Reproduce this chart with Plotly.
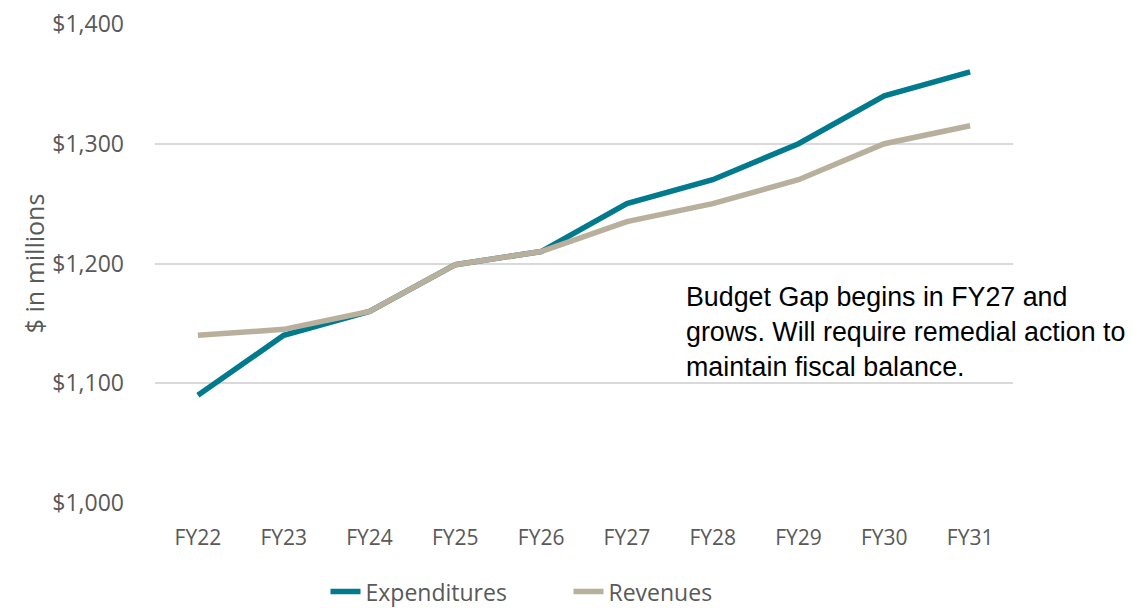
import plotly.graph_objects as go

years = ["FY22", "FY23", "FY24", "FY25", "FY26", "FY27", "FY28", "FY29", "FY30", "FY31"]
expenditures = [1090, 1140, 1160, 1199, 1210, 1250, 1270, 1300, 1340, 1360]
revenues = [1140, 1145, 1160, 1199, 1210, 1235, 1250, 1270, 1300, 1315]
y_ticks = [1000, 1100, 1200, 1300, 1400]
y_tick_labels = ["$1,000", "$1,100", "$1,200", "$1,300", "$1,400"]

font_family = "Open Sans, Noto Sans, sans-serif"
fig = go.Figure()
fig.add_trace(go.Scatter(x=years, y=expenditures, mode="lines", name="Expenditures",
                         line=dict(color="#007A8C", width=5.5)))
fig.add_trace(go.Scatter(x=years, y=revenues, mode="lines", name="Revenues",
                         line=dict(color="#B8B09C", width=5.5)))

fig.update_layout(
    width=1137, height=608,
    margin=dict(l=155, r=124, t=24, b=105, autoexpand=False),
    paper_bgcolor="white", plot_bgcolor="white",
    font=dict(family=font_family, size=18, color="#595959"),
    legend=dict(orientation="h", x=0.5, xanchor="center", xref="container",
                y=0.027, yanchor="middle", yref="container",
                font=dict(size=23, color="#595959"), traceorder="normal",
                itemwidth=30, entrywidth=198),
    annotations=[dict(
        text="Budget Gap begins in FY27 and<br>grows. Will require remedial action to<br>maintain fiscal balance.",
        xref="paper", yref="paper", x=(684 - 155) / 858, y=(503 - 280) / 479,
        xanchor="left", yanchor="top", align="left", showarrow=False,
        font=dict(family="Liberation Sans, Arial, sans-serif", size=26.8, color="black"))],
)
fig.update_xaxes(range=[-0.5, 9.5], showgrid=False, showline=False, zeroline=False, ticks="",
                 tickfont=dict(size=21, color="#595959"), ticklabelstandoff=20,
                 automargin=False)
fig.update_yaxes(range=[1000, 1400], tickvals=y_ticks, ticktext=y_tick_labels,
                 showgrid=True, gridcolor="#D9D9D9", gridwidth=1.5, zeroline=False,
                 showline=False, ticks="", ticklabelstandoff=30,
                 tickfont=dict(size=23, color="#595959"), automargin=False,
                 title=dict(text="$ in millions", font=dict(size=25, color="#595959"), standoff=0))

fig.write_html("out.html")
